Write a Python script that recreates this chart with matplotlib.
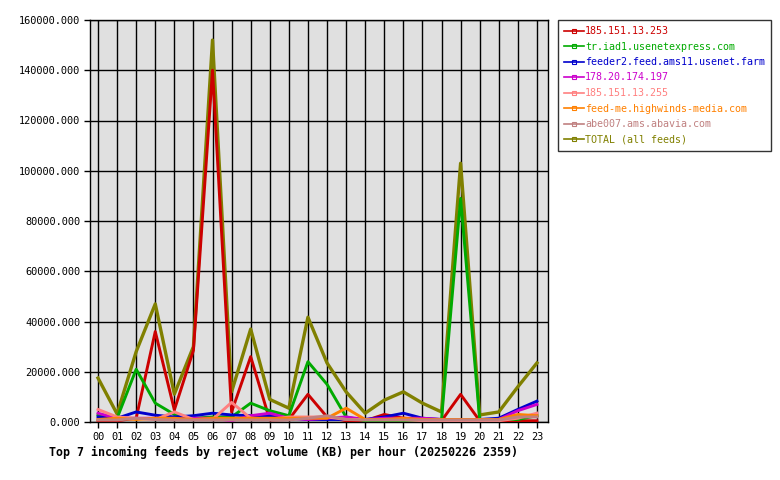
import matplotlib
matplotlib.use("Agg")
import matplotlib.pyplot as plt

# hours on the x axis
hours = ["%02d" % h for h in range(24)]

# reject volume (KB) per hour
feed_253 = [500, 500, 1500, 36000, 4800, 28500, 140000, 4000, 26000, 800, 1000, 11000,
            2000, 500, 500, 3000, 1500, 1000, 500, 11000, 500, 500, 500, 500]
feed_usenetexpress = [2800, 1500, 21000, 7500, 3000, 1500, 2000, 2000, 7500, 4500, 2500, 24000,
                      15000, 2000, 500, 500, 500, 500, 1000, 89000, 1000, 1000, 1000, 2500]
feed_feeder2 = [2000, 1500, 4000, 2700, 2000, 2500, 3500, 2800, 2500, 2500, 1500, 1000,
                1000, 1000, 1000, 2000, 3500, 1500, 1000, 1000, 1000, 1500, 5000, 8300]
feed_178 = [3500, 1500, 1500, 1500, 1000, 1500, 1500, 500, 2500, 3500, 1500, 1000,
            1500, 2000, 1000, 1500, 1500, 1500, 1000, 1000, 500, 1000, 4500, 7000]
feed_255 = [5000, 2000, 1500, 1000, 4000, 1000, 1000, 7800, 1500, 1000, 2000, 2000,
            2000, 1000, 1000, 1000, 1000, 500, 500, 500, 500, 500, 1500, 3500]
feed_highwinds = [1000, 1500, 1000, 1500, 1500, 1000, 1500, 1500, 1500, 1500, 1500, 1500,
                  1500, 5500, 1000, 1000, 1500, 1000, 1000, 1000, 1000, 1000, 3000, 2500]
feed_abavia = [800, 800, 1500, 1000, 800, 800, 800, 800, 800, 800, 800, 1500,
               2500, 1000, 800, 800, 800, 800, 800, 800, 800, 800, 2000, 2000]
total = [17500, 3200, 28000, 47000, 11100, 30000, 152000, 12000, 37000, 9000, 5500, 41700,
         23500, 12000, 3500, 8700, 12000, 7500, 4000, 103000, 2800, 4000, 14000, 23500]

feed_names = ["185.151.13.253", "tr.iad1.usenetexpress.com", "feeder2.feed.ams11.usenet.farm",
              "178.20.174.197", "185.151.13.255", "feed-me.highwinds-media.com",
              "abe007.ams.abavia.com"]
feed_values = [feed_253, feed_usenetexpress, feed_feeder2, feed_178, feed_255,
               feed_highwinds, feed_abavia]
feed_colors = ["#cc0000", "#00aa00", "#0000cc", "#cc00cc", "#ff8080", "#ff8000", "#c08080"]
total_color = "#808000"

MONO = "DejaVu Sans Mono"

fig = plt.figure(figsize=(7.8, 4.8), dpi=100)
ax = fig.add_axes([90 / 780, 58 / 480, 458 / 780, 402 / 480])
ax.set_facecolor("#e0e0e0")

x = list(range(len(hours)))

# total goes underneath, the feeds on top of it
total_line, = ax.plot(x, total, color=total_color, lw=2.4, zorder=2, label="TOTAL (all feeds)")
handles = []
for name, vals, col in zip(feed_names, feed_values, feed_colors):
    ln, = ax.plot(x, vals, color=col, lw=2.1, zorder=3, label=name)
    handles.append(ln)
handles.append(total_line)

ax.set_xlim(-0.42, 23.58)
ax.set_ylim(0, 160000)
ax.set_xticks(x)
ax.set_xticklabels(hours, family=MONO, fontsize=7.4)
ax.set_yticks(range(0, 160001, 20000))
ax.set_yticklabels(["%.3f" % v for v in range(0, 160001, 20000)], family=MONO, fontsize=7.4)
ax.tick_params(length=4, width=1, color="black", pad=3)
ax.grid(True, color="black", lw=1)
ax.set_axisbelow(True)
for sp in ax.spines.values():
    sp.set_color("black")
    sp.set_linewidth(1)

# legend with small square markers, text in series colour
leg_handles = []
for h in handles:
    proxy, = ax.plot([], [], color=h.get_color(), lw=1.2, marker="s", markersize=3,
                     mfc="none", mew=0.8, label=h.get_label())
    leg_handles.append(proxy)
leg = fig.legend(handles=leg_handles, loc="upper left",
                 bbox_to_anchor=(558 / 780, 1 - 20 / 480), prop={"family": MONO, "size": 7.2},
                 labelcolor="linecolor", frameon=True, fancybox=False, borderpad=0.6,
                 handlelength=2.0, handletextpad=0.1, labelspacing=0.55, borderaxespad=0)
leg.get_frame().set_edgecolor("black")
leg.get_frame().set_linewidth(1)

fig.text(49 / 780, 1 - 452 / 480,
         "Top 7 incoming feeds by reject volume (KB) per hour (20250226 2359)",
         family=MONO, fontsize=8.35, fontweight="bold", va="center", ha="left")

fig.savefig("out.png", dpi=100)
